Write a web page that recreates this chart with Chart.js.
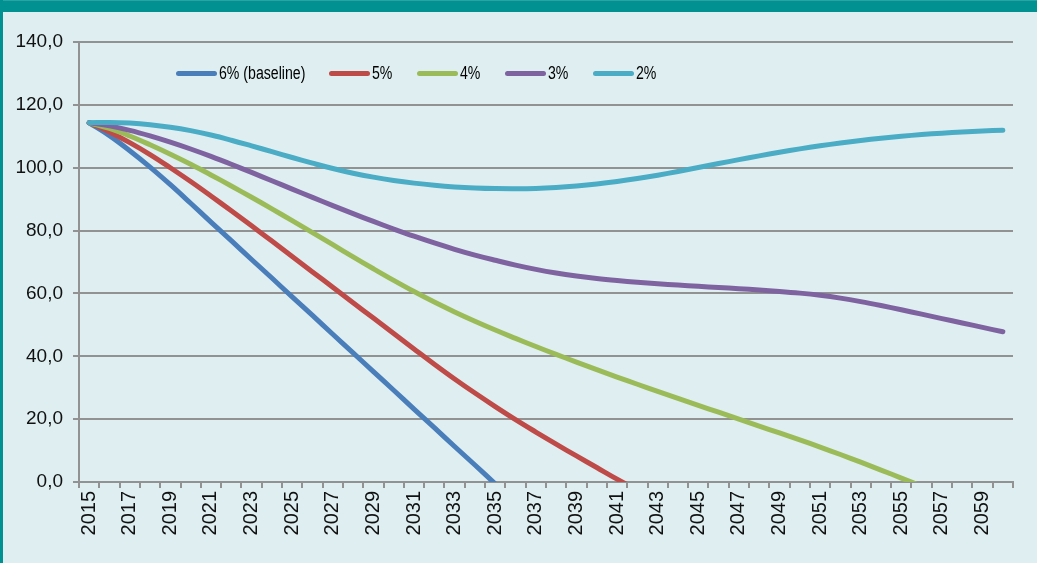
<!DOCTYPE html>
<html>
<head>
<meta charset="utf-8">
<script src="https://cdn.jsdelivr.net/npm/chart.js@4.4.1/dist/chart.umd.min.js"></script>
<style>
  html, body { margin: 0; padding: 0; }
  body { width: 1037px; height: 563px; background: #DFEFF1; position: relative; overflow: hidden; font-family: "Liberation Sans", Arial, sans-serif; }
  #topbar { position: absolute; left: 0; top: 0; width: 1037px; height: 12px; background: #009190; border-top: 1px solid #2AA3A2; box-sizing: border-box; z-index: 3; }
  #leftbar { position: absolute; left: 0; top: 0; width: 3px; height: 563px; background: #009190; z-index: 3; }
  #wrap { position: absolute; left: 0; top: 0; width: 1037px; height: 563px; }
  #legend { position: absolute; left: 0; top: 0; width: 1037px; height: 100px; z-index: 2;
            font-family: "Liberation Sans", Arial, sans-serif; font-size: 18px; color: #000; }
  .swatch { position: absolute; top: 71px; width: 41px; height: 5px; border-radius: 3px; }
  .ltext { position: absolute; top: 63px; line-height: 20px; white-space: nowrap; transform: scaleX(0.785); transform-origin: 0 50%; }
</style>
</head>
<body>
<div id="topbar"></div>
<div id="leftbar"></div>
<div id="wrap"><canvas id="c" width="1037" height="563"></canvas></div>
<div id="legend"></div>
<script>
const years = [];
for (let y = 2015; y <= 2060; y++) years.push(String(y));

const seriesNames = ["6% (baseline)", "5%", "4%", "3%", "2%"];
const seriesColors = ["#4A7EBB", "#BE4B48", "#9BBB59", "#7F63A1", "#4BACC6"];

const s6 = [114.3, 110.2, 105.4, 100.2, 94.6, 88.7, 82.7, 76.8, 70.8, 64.9,
            58.9, 53.0, 47.0, 41.1, 35.1, 29.2, 23.2, 17.3, 11.3, 5.4,
            -0.6];
const s5 = [114.3, 111.4, 108.0, 104.2, 100.0, 95.6, 91.0, 86.3, 81.5, 76.65,
            71.75, 66.85, 61.95, 57.05, 52.15, 47.25, 42.35, 37.5, 32.8, 28.3,
            24.0, 19.85, 15.9, 12.05, 8.3, 4.6, 0.9, -2.6];
const s4 = [114.3, 112.5, 110.1, 107.3, 104.3, 101.1, 97.7, 94.2, 90.6, 86.9,
            83.15, 79.35, 75.5, 71.65, 67.85, 64.15, 60.6, 57.25, 54.1, 51.15,
            48.35, 45.7, 43.1, 40.6, 38.15, 35.75, 33.4, 31.1, 28.85, 26.6,
            24.4, 22.2, 20.0, 17.8, 15.6, 13.4, 11.1, 8.75, 6.3, 3.8,
            1.25, -1.35];
const s3 = [114.3, 113.3, 111.9, 110.15, 108.15, 105.95, 103.6, 101.1, 98.5, 95.85,
            93.2, 90.55, 87.95, 85.4, 82.9, 80.5, 78.2, 76.05, 74.05, 72.2,
            70.55, 69.0, 67.65, 66.5, 65.55, 64.75, 64.1, 63.55, 63.08, 62.66,
            62.26, 61.88, 61.5, 61.1, 60.65, 60.1, 59.4, 58.5, 57.4, 56.15,
            54.8, 53.4, 52.0, 50.6, 49.2, 47.8];
const s2 = [114.3, 114.4, 114.2, 113.7, 112.9, 111.8, 110.4, 108.75, 106.95, 105.1,
            103.25, 101.45, 99.75, 98.25, 97.0, 95.95, 95.1, 94.42, 93.9, 93.55,
            93.35, 93.3, 93.4, 93.7, 94.17, 94.8, 95.6, 96.55, 97.63, 98.81,
            100.06, 101.32, 102.57, 103.78, 104.93, 106.0, 106.97, 107.85, 108.65, 109.37,
            110.0, 110.55, 111.0, 111.4, 111.7, 111.95];

const yTicks = [0, 20, 40, 60, 80, 100, 120, 140];

const allSeries = [s6, s5, s4, s3, s2];

const datasets = allSeries.map((s, i) => ({
  label: seriesNames[i],
  data: years.map((_, k) => (k < s.length ? s[k] : null)),
  borderColor: seriesColors[i],
  backgroundColor: seriesColors[i],
  borderWidth: 5,
  borderCapStyle: 'round',
  borderJoinStyle: 'round',
  pointRadius: 0,
  pointHoverRadius: 0,
  tension: 0.4,
  fill: false,
  spanGaps: false,
  clip: { left: 10, top: 10, right: 10, bottom: 0 },
  order: 5 - i
}));

// HTML legend (layout positions only)
const legendSwatchLeft = [176, 329, 417, 505, 593];
const leg = document.getElementById('legend');
seriesNames.forEach((n, i) => {
  const sw = document.createElement('div'); sw.className = 'swatch';
  sw.style.left = legendSwatchLeft[i] + 'px'; sw.style.background = seriesColors[i];
  const tx = document.createElement('div'); tx.className = 'ltext';
  tx.style.left = (legendSwatchLeft[i] + 43) + 'px'; tx.textContent = n;
  leg.appendChild(sw); leg.appendChild(tx);
});

const gridColor = '#929292';

new Chart(document.getElementById('c'), {
  type: 'line',
  data: { labels: years, datasets: datasets },
  options: {
    responsive: false,
    animation: false,
    devicePixelRatio: 1,
    events: [],
    layout: { padding: { left: 0, top: 42, right: 24, bottom: 0 } },
    plugins: { legend: { display: false }, tooltip: { enabled: false } },
    scales: {
      x: {
        type: 'category',
        offset: true,
        grid: { offset: true, drawOnChartArea: false, drawTicks: true, tickLength: 6, color: gridColor, lineWidth: 2 },
        border: { display: true, color: gridColor, width: 2 },
        ticks: {
          autoSkip: false, maxRotation: 90, minRotation: 90, padding: 3,
          color: '#111', font: { family: '"Liberation Sans", Arial, sans-serif', size: 20 },
          callback: function (v, idx) { return idx % 2 === 0 ? years[idx] : ''; }
        },
        afterFit: function (s) { s.height = 81; }
      },
      y: {
        min: yTicks[0], max: yTicks[yTicks.length - 1],
        afterBuildTicks: function (s) { s.ticks = yTicks.map(v => ({ value: v })); },
        grid: { color: gridColor, lineWidth: 2, drawTicks: true, tickLength: 6 },
        border: { display: true, color: gridColor, width: 2 },
        ticks: {
          padding: 10, color: '#111',
          font: { family: '"Liberation Sans", Arial, sans-serif', size: 19 },
          callback: function (v) { return Number(v).toFixed(1).replace('.', ','); }
        },
        afterFit: function (s) { s.width = 79; }
      }
    }
  }
});
</script>
</body>
</html>
